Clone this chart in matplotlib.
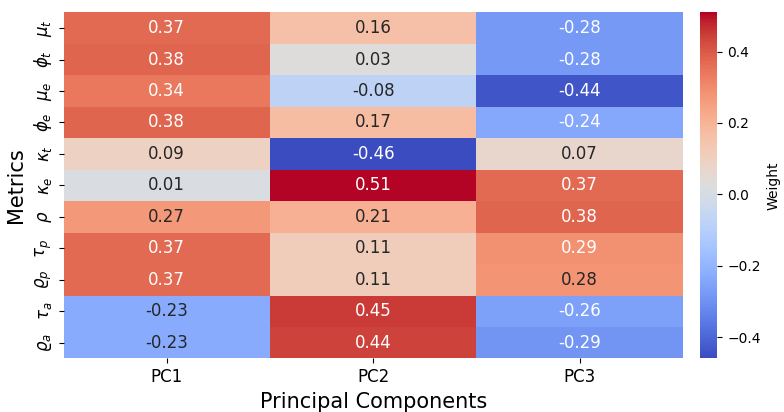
import numpy as np
import pandas as pd
import seaborn as sns
import matplotlib
matplotlib.use("Agg")
import matplotlib.pyplot as plt

metrics = [r'$\mu_t$', r'$\phi_t$', r'$\mu_e$', r'$\phi_e$', r'$\kappa_t$', r'$\kappa_e$',
           r'$\rho$', r'$\tau_p$', r'$\varrho_p$', r'$\tau_a$', r'$\varrho_a$']
components = ['PC1', 'PC2', 'PC3']
pc1 = [0.37, 0.38, 0.34, 0.38, 0.09, 0.01, 0.27, 0.37, 0.37, -0.23, -0.23]
pc2 = [0.16, 0.03, -0.08, 0.17, -0.46, 0.51, 0.21, 0.11, 0.11, 0.45, 0.44]
pc3 = [-0.28, -0.28, -0.44, -0.24, 0.07, 0.37, 0.38, 0.29, 0.28, -0.26, -0.29]

df = pd.DataFrame({'PC1': pc1, 'PC2': pc2, 'PC3': pc3}, index=metrics)

fig = plt.figure(figsize=(7.84, 4.12), dpi=100)
ax = fig.add_axes([0.081, 0.13, 0.79, 0.84])
cax = fig.add_axes([0.893, 0.13, 0.022, 0.84])
sns.heatmap(df, annot=True, fmt='.2f', cmap='coolwarm', ax=ax, cbar_ax=cax,
            annot_kws={'size': 12}, cbar_kws={'label': 'Weight'})
ax.set_xlabel('Principal Components', fontsize=15)
ax.set_ylabel('Metrics', fontsize=15)
ax.tick_params(axis='x', labelsize=12)
ax.tick_params(axis='y', labelsize=12)
ax.set_yticklabels(metrics, rotation=90, va='center')
cax.tick_params(labelsize=10)
cax.yaxis.label.set_size(10)

fig.savefig('out.png', dpi=100)
